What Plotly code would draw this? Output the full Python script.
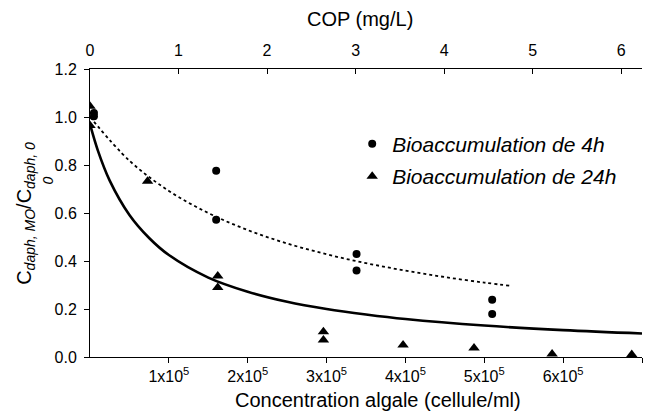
import plotly.graph_objects as go

# ---- data ----
conc_4h = [5000, 5000, 160000, 160000, 338000, 338000, 510000, 510000]
ratio_4h = [1.017, 1.003, 0.776, 0.572, 0.429, 0.360, 0.239, 0.179]

conc_24h = [0, 0, 73000, 162000, 162000, 296000, 296000, 397000, 487000, 586000, 687000]
ratio_24h = [1.045, 0.965, 0.732, 0.337, 0.290, 0.105, 0.071, 0.050, 0.038, 0.013, 0.010]

# fitted curves
fit24_x = [0, 10000, 25000, 50000, 75000, 100000, 150000, 200000, 250000, 300000,
           350000, 400000, 500000, 600000, 700000]
fit24_y = [0.970, 0.860, 0.735, 0.592, 0.496, 0.425, 0.331, 0.272, 0.230, 0.200,
           0.177, 0.158, 0.131, 0.112, 0.098]

fit4_x = [0, 50000, 100000, 150000, 200000, 250000, 300000, 350000, 400000, 450000,
          500000, 535000]
fit4_y = [1.000, 0.818, 0.692, 0.600, 0.529, 0.473, 0.428, 0.391, 0.360, 0.333,
          0.310, 0.296]

x_tickvals = [100000, 200000, 300000, 400000, 500000, 600000, 700000]
x_ticktext = ["1x10<sup>5</sup>", "2x10<sup>5</sup>", "3x10<sup>5</sup>", "4x10<sup>5</sup>",
              "5x10<sup>5</sup>", "6x10<sup>5</sup>", "7x10<sup>5</sup>"]
cop_ticks = [0, 1, 2, 3, 4, 5, 6]
y_ticks = [0.0, 0.2, 0.4, 0.6, 0.8, 1.0, 1.2]

FONT = "Liberation Sans, Arial, sans-serif"

fig = go.Figure()

fig.add_trace(go.Scatter(x=fit4_x, y=fit4_y, mode="lines", line=dict(color="black", width=1.8, dash="3px,3px", shape="spline"),
                         showlegend=False, hoverinfo="skip"))
fig.add_trace(go.Scatter(x=fit24_x, y=fit24_y, mode="lines", line=dict(color="black", width=2.6, shape="spline"),
                         showlegend=False, hoverinfo="skip"))
fig.add_trace(go.Scatter(x=conc_4h, y=ratio_4h, mode="markers", name="Bioaccumulation de 4h",
                         marker=dict(symbol="circle", size=8, color="black"), legendgroup="a"))
fig.add_trace(go.Scatter(x=conc_24h, y=ratio_24h, mode="markers", name="Bioaccumulation de 24h",
                         marker=dict(symbol="triangle-up", size=10, color="black"), legendgroup="b"))
# invisible trace to activate top axis
fig.add_trace(go.Scatter(x=[0], y=[0], xaxis="x2", mode="markers", marker=dict(opacity=0),
                         showlegend=False, hoverinfo="skip"))

fig.update_layout(
    width=652, height=417,
    margin=dict(l=82, r=18, t=61, b=68),
    paper_bgcolor="white", plot_bgcolor="white",
    font=dict(family=FONT, color="black", size=16),
    xaxis=dict(range=[0, 700000], tickvals=x_tickvals, ticktext=x_ticktext,
               showgrid=False, zeroline=False, showline=True, linecolor="black", linewidth=1,
               ticks="outside", ticklen=5, tickcolor="black", tickfont=dict(size=16),
               ticklabelstandoff=0),
    xaxis2=dict(range=[0, 6.235], overlaying="x", side="top", tickvals=cop_ticks,
                showgrid=False, zeroline=False, showline=True, linecolor="black", linewidth=1,
                ticks="inside", ticklen=5, tickcolor="black", tickfont=dict(size=16),
                ticklabelstandoff=6),
    yaxis=dict(range=[0, 1.2], tickvals=y_ticks, tickformat=".1f",
               showgrid=False, zeroline=False, showline=True, linecolor="black", linewidth=1,
               ticks="outside", ticklen=5, tickcolor="black", tickfont=dict(size=16),
               ticklabelstandoff=4),
    legend=dict(x=0.475, y=0.81, xanchor="left", yanchor="top", bgcolor="rgba(0,0,0,0)",
                font=dict(size=21, style="italic"), tracegroupgap=2, itemwidth=30),
    showlegend=True,
)

# axis titles
fig.add_annotation(xref="paper", yref="paper", x=0.522, y=-0.15, xanchor="center", yanchor="middle",
                   showarrow=False, font=dict(size=20), text="Concentration algale (cellule/ml)")
fig.add_annotation(xref="paper", yref="paper", x=0.489, y=1.172, xanchor="center", yanchor="middle",
                   showarrow=False, font=dict(size=20), text="COP (mg/L)")
fig.add_annotation(xref="paper", yref="paper", x=-0.118, y=0.5, xanchor="center", yanchor="middle",
                   textangle=-90, showarrow=False, font=dict(size=20),
                   text="C<sub><i>daph, MO</i></sub>/C<sub><i>daph, 0</i></sub>")
fig.add_annotation(xref="paper", yref="paper", x=-0.077, y=0.615, xanchor="center", yanchor="middle",
                   textangle=-90, showarrow=False, font=dict(size=14, style="italic"),
                   text="0")

fig.write_html("out.html")
